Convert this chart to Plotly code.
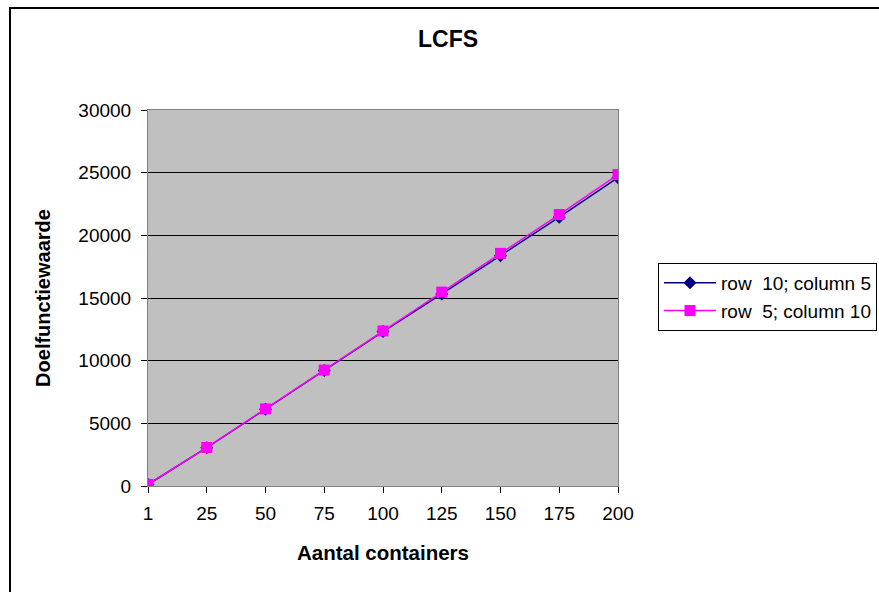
import plotly.graph_objects as go

categories = ["1", "25", "50", "75", "100", "125", "150", "175", "200"]
row10_col5 = [120, 3060, 6130, 9220, 12320, 15320, 18380, 21450, 24600]
row5_col10 = [125, 3070, 6150, 9250, 12370, 15470, 18560, 21660, 24850]
series_names = ["row\u00a0 10; column 5", "row\u00a0 5; column 10"]
y_ticks = [0, 5000, 10000, 15000, 20000, 25000, 30000]
y_tick_labels = [str(v) for v in y_ticks]

W, H = 879, 592
L, R, T, B = 148, 618, 110, 486
pw, ph = R - L, B - T

def px_x(x):
    return (x - L) / pw

def px_y(y):
    return (B - y) / ph

xs = list(range(len(categories)))
font = "Liberation Sans, Arial, sans-serif"

fig = go.Figure()
fig.add_trace(go.Scatter(
    x=xs, y=row10_col5, name=series_names[0], mode="lines+markers",
    line=dict(color="#000080", width=1.5),
    marker=dict(symbol="diamond", size=10, color="#000080"),
))
fig.add_trace(go.Scatter(
    x=xs, y=row5_col10, name=series_names[1], mode="lines+markers",
    line=dict(color="#FF00FF", width=1.5),
    marker=dict(symbol="square", size=11, color="#FF00FF"),
))

fig.update_layout(
    width=W, height=H,
    margin=dict(l=L, r=W - R, t=T, b=H - B, autoexpand=False),
    paper_bgcolor="white",
    plot_bgcolor="#C0C0C0",
    font=dict(family=font, size=19, color="black"),
    title=dict(text="<b>LCFS</b>", x=px_x(448), xref="paper", xanchor="center",
               y=1 - 39 / H, yanchor="middle", font=dict(size=23)),
    showlegend=True,
    legend=dict(x=px_x(658), y=px_y(263), xanchor="left", yanchor="top",
                bordercolor="black", borderwidth=1, bgcolor="white",
                font=dict(size=19), tracegroupgap=0, itemwidth=52),
    xaxis=dict(
        tickmode="array", tickvals=xs, ticktext=categories,
        range=[0, len(categories) - 1], showgrid=False, zeroline=False,
        ticks="outside", ticklen=6, tickcolor="black", ticklabelstandoff=4,
        showline=True, linecolor="#808080", linewidth=1, mirror=True,
        title=dict(text="<b>Aantal containers</b>", font=dict(size=20.5), standoff=22),
    ),
    yaxis=dict(
        range=[0, 30000], tickmode="array", tickvals=y_ticks, ticktext=y_tick_labels,
        showgrid=True, gridcolor="black", gridwidth=1, zeroline=False,
        ticks="outside", ticklen=6, tickcolor="black", ticklabelstandoff=6,
        showline=True, linecolor="#808080", linewidth=1, mirror=True,
        title=dict(text="<b>Doelfunctiewaarde</b>", font=dict(size=20), standoff=22),
    ),
    shapes=[dict(type="rect", xref="paper", yref="paper",
                 x0=px_x(10), x1=px_x(W + 10), y0=px_y(8), y1=px_y(H + 10),
                 line=dict(color="black", width=2), fillcolor="rgba(0,0,0,0)",
                 layer="below")],
)

fig.write_html("out.html")
